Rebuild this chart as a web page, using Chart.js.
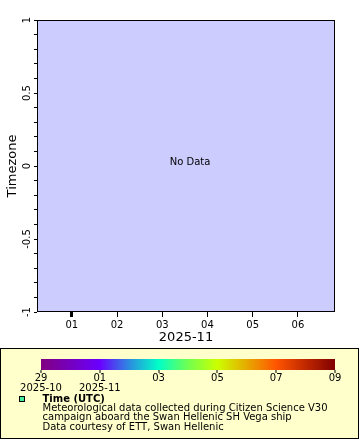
<!DOCTYPE html>
<html>
<head>
<meta charset="utf-8">
<script src="https://cdn.jsdelivr.net/npm/chart.js@4.4.1/dist/chart.umd.min.js"></script>
<style>
  html, body { margin: 0; padding: 0; background: #fff; }
  #wrap { width: 360px; height: 440px; position: relative; }
</style>
</head>
<body>
<div id="wrap"><canvas id="grafico" width="360" height="440"></canvas></div>
<script>
// dados: nenhum ponto neste periodo (dias contados a partir de 2025-11-01 UTC)
const pontosX = [];
const pontosY = [];

// eixo x (dias de novembro)
const xMin = -0.77;
const xMax = 5.82;
const xTicks = [0, 1, 2, 3, 4, 5];
const xTickLabels = ['01', '02', '03', '04', '05', '06'];
const xTitulo = '2025-11';

// eixo y
const yMin = -1;
const yMax = 1;
const yMajor = [-1, -0.5, 0, 0.5, 1];
const yMajorLabels = ['-1', '-0.5', '0', '0.5', '1'];
const yTitulo = 'Timezone';

// barra de cores (legenda)
const barraLabels = ['29', '01', '03', '05', '07', '09'];
const barraLabels2 = ['2025-10', '2025-11', '', '', '', ''];
const barraPosicoes = [0, 0.2, 0.3, 0.4, 0.5, 0.6, 0.7, 0.8, 0.9, 1];
const barraCores = ['#800080', '#6a00ff', '#2c8ce0', '#00ffc8', '#70ff50', '#ccff00', '#e6aa00', '#ff5500', '#c02800', '#800000'];

const legendaTitulo = 'Time (UTC)';
const legendaLinhas = [
    'Meteorological data collected during Citizen Science V30',
    'campaign aboard the Swan Hellenic SH Vega ship',
    'Data courtesy of ETT, Swan Hellenic'
];
const semDados = 'No Data';

const fonte = 'DejaVu Sans';

// fundo e moldura da area do grafico
const moldura = {
    id: 'moldura',
    beforeDraw(chart) {
        const a = chart.chartArea;
        const c = chart.ctx;
        c.save();
        c.fillStyle = '#ccccff';
        c.fillRect(a.left, a.top, a.right - a.left, a.bottom - a.top);
        c.restore();
    },
    afterDraw(chart) {
        const a = chart.chartArea;
        const c = chart.ctx;
        c.save();
        c.strokeStyle = '#000';
        c.lineWidth = 1;
        c.strokeRect(Math.round(a.left) + 0.5, Math.round(a.top) + 0.5,
            Math.round(a.right - a.left) - 1, Math.round(a.bottom - a.top) - 1);

        // texto "No Data"
        c.fillStyle = '#000';
        c.font = '10px "' + fonte + '"';
        c.textAlign = 'center';
        c.textBaseline = 'middle';
        c.fillText(semDados, (a.left + a.right) / 2 + 4, (a.top + a.bottom) / 2 - 4);

        // rotulos do eixo y, girados
        const y = chart.scales.y;
        c.font = '10px "' + fonte + '"';
        yMajor.forEach(function (v, i) {
            const py = y.getPixelForValue(v);
            c.save();
            c.translate(27.5, py);
            c.rotate(-Math.PI / 2);
            c.textAlign = 'center';
            c.textBaseline = 'middle';
            c.fillText(yMajorLabels[i], 0, 0);
            c.restore();
        });
        c.restore();
    }
};

// caixa da legenda com a barra de cores
const legenda = {
    id: 'legenda',
    afterDraw(chart) {
        const c = chart.ctx;
        c.save();
        c.fillStyle = '#ffffcc';
        c.fillRect(0, 348, 359, 91);
        c.strokeStyle = '#000';
        c.lineWidth = 1;
        c.strokeRect(0.5, 348.5, 358, 90);

        const bx0 = 41, bx1 = 335, by0 = 359, by1 = 370;
        const grad = c.createLinearGradient(bx0, 0, bx1, 0);
        barraPosicoes.forEach(function (p, i) { grad.addColorStop(p, barraCores[i]); });
        c.fillStyle = grad;
        c.fillRect(bx0, by0, bx1 - bx0, by1 - by0);

        c.fillStyle = '#000';
        c.font = '10px "' + fonte + '"';
        c.textAlign = 'center';
        c.textBaseline = 'middle';
        const passo = (bx1 - bx0) / (barraLabels.length - 1);
        barraLabels.forEach(function (t, i) {
            const px = bx0 + i * passo;
            c.fillRect(Math.round(px) - 0.5, by1, 1, 3);
            c.fillText(t, px, 378.5);
            if (barraLabels2[i]) c.fillText(barraLabels2[i], px, 388);
        });

        // marcador
        c.fillStyle = '#44ee99';
        c.fillRect(19, 397, 6, 5);
        c.strokeStyle = '#000';
        c.strokeRect(19.5, 396.5, 5, 5);

        c.fillStyle = '#000';
        c.textAlign = 'left';
        c.font = 'bold 10px "' + fonte + '"';
        c.fillText(legendaTitulo, 42.5, 399);
        c.font = '10px "' + fonte + '"';
        legendaLinhas.forEach(function (t, i) {
            c.fillText(t, 42.5, 408.5 + i * 9.3);
        });
        c.restore();
    }
};

const dados = pontosX.map(function (x, i) { return { x: x, y: pontosY[i] }; });

var ctx = document.getElementById('grafico');
var grafico = new Chart(ctx, {
    type: 'scatter',
    data: {
        datasets: [{
            label: legendaTitulo,
            data: dados,
            backgroundColor: '#44ee99',
            borderColor: '#000',
            pointRadius: 3
        }]
    },
    options: {
        responsive: false,
        animation: false,
        layout: { padding: { top: 20, right: 25, bottom: 95, left: 0 } },
        plugins: {
            legend: { display: false },
            tooltip: { enabled: false }
        },
        scales: {
            x: {
                type: 'linear',
                min: xMin,
                max: xMax,
                afterFit: function (s) { s.height = 33; },
                afterBuildTicks: function (s) {
                    s.ticks = xTicks.map(function (v) { return { value: v }; });
                },
                border: { display: false },
                grid: {
                    drawOnChartArea: false,
                    drawTicks: true,
                    tickLength: 5,
                    tickColor: '#000',
                    tickWidth: function (c) { return c.tick && c.tick.value === 0 ? 3 : 1; }
                },
                ticks: {
                    color: '#000',
                    padding: 2,
                    maxRotation: 0,
                    font: { family: fonte, size: 10 },
                    callback: function (v) {
                        const i = xTicks.indexOf(v);
                        return i >= 0 ? xTickLabels[i] : '';
                    }
                },
                title: {
                    display: true,
                    text: xTitulo,
                    color: '#000',
                    font: { family: fonte, size: 13 },
                    padding: { top: 0, bottom: 0 }
                }
            },
            y: {
                type: 'linear',
                min: yMin,
                max: yMax,
                afterFit: function (s) { s.width = 37; },
                afterBuildTicks: function (s) {
                    const t = [];
                    for (let k = 0; k <= 20; k++) t.push({ value: yMin + k / 10 });
                    s.ticks = t;
                },
                border: { display: false },
                grid: {
                    drawOnChartArea: false,
                    drawTicks: true,
                    tickLength: 3,
                    tickColor: '#000'
                },
                ticks: {
                    display: false
                },
                title: {
                    display: true,
                    text: yTitulo,
                    color: '#000',
                    font: { family: fonte, size: 13 },
                    padding: { top: 5, bottom: 0 }
                }
            }
        }
    },
    plugins: [moldura, legenda]
});
</script>
</body>
</html>
